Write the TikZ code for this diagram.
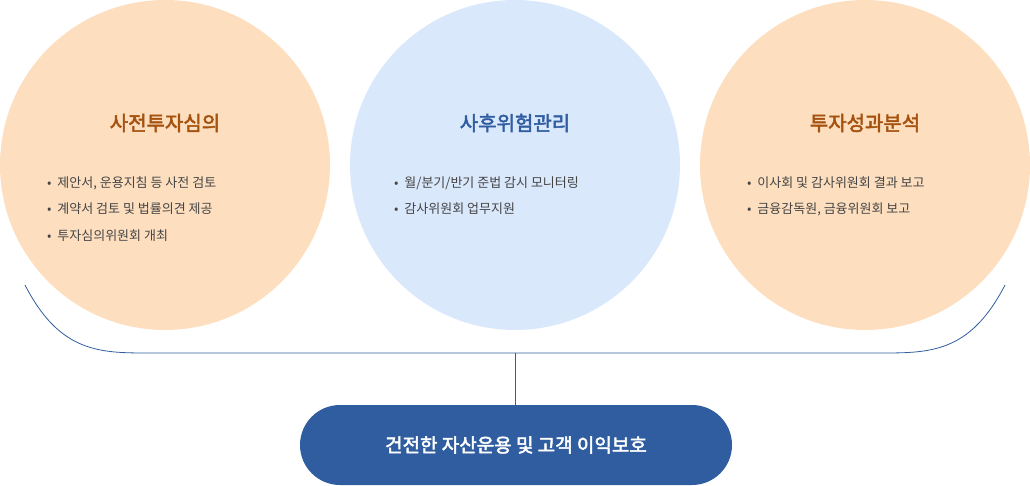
\documentclass[tikz,border=0pt]{standalone}
\usepackage{fontspec}
\newfontfamily\kr[AutoFakeBold=2.5]{Noto Sans CJK KR}
\definecolor{peach}{HTML}{FDDFC0}
\definecolor{skyblue}{HTML}{DAE8FC}
\definecolor{brownt}{HTML}{A5520F}
\definecolor{navy}{HTML}{2F5DA0}
\definecolor{bodyt}{HTML}{444444}
\begin{document}
\begin{tikzpicture}[x=1pt,y=-1pt,
	circ/.style={circle,minimum size=330pt,inner sep=0pt},
	title_text/.style={font=\kr\bfseries\fontsize{20}{24}\selectfont},
	item_text/.style={anchor=west,text=bodyt,font=\kr\fontsize{13}{20}\selectfont,align=left,inner sep=0pt}]
	\useasboundingbox (0,0) rectangle (1030,486);
	\node[circ,fill=peach] (pre) at (165,165) {};
	\node[circ,fill=skyblue] (post) at (515,165) {};
	\node[circ,fill=peach] (perf) at (865,165) {};
	
	\node[title_text,text=brownt] (pre_t) at (165,123) {사전투자심의};
	\node[title_text,text=navy] (post_t) at (515,123) {사후위험관리};
	\node[title_text,text=brownt] (perf_t) at (865,123) {투자성과분석};
	
	\node[item_text] (pre_a) at (47,183) {•\ \ 제안서, 운용지침 등 사전 검토};
	\node[item_text] (pre_b) at (47,209) {•\ \ 계약서 검토 및 법률의견 제공};
	\node[item_text] (pre_c) at (47,236) {•\ \ 투자심의위원회 개최};
	\node[item_text] (post_a) at (394,183) {•\ \ 월/분기/반기 준법 감시 모니터링};
	\node[item_text] (post_b) at (394,209) {•\ \ 감사위원회 업무지원};
	\node[item_text] (perf_a) at (747,183) {•\ \ 이사회 및 감사위원회 결과 보고};
	\node[item_text] (perf_b) at (747,209) {•\ \ 금융감독원, 금융위원회 보고};
	
	\node[fill=navy,rounded corners=40pt,minimum width=432pt,minimum height=80pt,text=white,font=\kr\bfseries\fontsize{19}{22}\selectfont] (goal) at (516,445) {건전한 자산운용 및 고객 이익보호};
	
	\coordinate (lend) at (25,285);
	\coordinate (rend) at (1005,285);
	\coordinate (mid) at (515,353);
	\draw[navy,line width=0.8pt] (lend) .. controls (60,353) and (100,353) .. (150,353) -- (880,353) .. controls (930,353) and (970,353) .. (rend);
	\draw[navy,line width=0.8pt] (mid) -- (goal.north -| mid);
\end{tikzpicture}
\end{document}
